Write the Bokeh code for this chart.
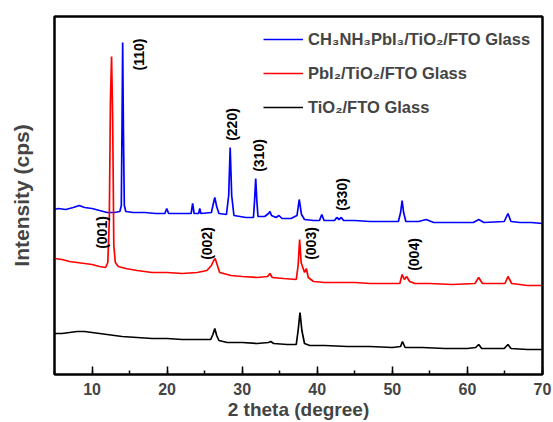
from bokeh.plotting import figure
from bokeh.models import SingleIntervalTicker, FixedTicker, Range1d, ColumnDataSource, LinearAxis
from bokeh.core.properties import value
from bokeh.embed import file_html
from bokeh.resources import INLINE
import math

# ---- data (2theta in degrees, intensity in arbitrary counts, traces offset) ----
blue_x = [5.0, 5.5, 6.5, 7.5, 8.3, 9.0, 10.0, 11.0, 12.0, 13.0, 13.7, 13.9, 14.0, 14.08, 14.18, 14.3, 14.5,
          15.5, 17.0, 18.5, 19.7, 19.95, 20.2, 21.5, 23.2, 23.4, 23.6, 24.2, 24.35, 24.5, 25.9, 26.1, 26.35,
          26.6, 26.9, 27.9, 28.2, 28.4, 28.6, 28.9, 30.5, 31.5, 31.65, 31.8, 31.95, 32.1, 33.0, 33.5, 33.7,
          33.9, 34.5, 34.9, 35.3, 36.5, 37.3, 37.6, 37.9, 38.3, 39.5, 40.3, 40.6, 40.9, 42.3, 42.6, 42.9,
          43.2, 43.5, 45.0, 47.0, 49.0, 50.8, 51.1, 51.3, 51.5, 51.8, 53.5, 54.5, 55.5, 58.0, 60.8, 61.5,
          62.2, 64.9, 65.4, 65.8, 67.0, 68.5, 70.0]
blue_y = [165, 166, 165, 167, 169, 167, 166, 164, 162, 162, 163, 169, 254, 332, 244, 169, 163,
          162, 162, 161, 161, 166, 161, 161, 161, 171, 161, 161, 166, 161, 162, 169, 177,
          168, 161, 160, 179, 227, 179, 159, 157, 157, 174, 196, 174, 158, 158, 161, 163,
          159, 157, 159, 156, 156, 159, 175, 160, 155, 154, 154, 160, 154, 154, 157, 155,
          157, 154, 154, 153, 153, 153, 162, 174, 162, 153, 153, 155, 152, 152, 152, 155,
          152, 153, 161, 153, 152, 152, 151]

red_x = [5.0, 6.0, 7.0, 8.0, 9.0, 10.0, 11.0, 11.8, 12.1, 12.3, 12.45, 12.6, 12.75, 12.9, 13.1, 13.5,
         14.5, 16.0, 18.0, 20.0, 22.0, 24.0, 25.3, 25.9, 26.2, 26.4, 26.7, 27.0, 28.5, 30.0, 32.0, 33.4,
         33.7, 34.0, 35.5, 37.2, 37.45, 37.65, 37.85, 38.3, 38.55, 38.8, 39.5, 41.0, 43.0, 45.0, 47.0,
         49.0, 51.0, 51.3, 51.6, 51.9, 52.3, 53.0, 55.0, 58.0, 61.0, 61.5, 62.0, 65.0, 65.4, 65.9, 68.0, 70.0]
red_y = [116, 115, 113, 112, 111, 110, 108, 107, 112, 154, 274, 318, 254, 129, 112, 108,
         106, 104, 102, 102, 101, 102, 104, 109, 114, 116, 109, 102, 99, 98, 97, 98,
         101, 97, 96, 95, 109, 135, 112, 102, 106, 97, 93, 92, 92, 92, 91,
         91, 91, 100, 95, 98, 93, 91, 91, 90, 91, 97, 91, 91, 98, 91, 89, 89]

black_x = [5.0, 6.0, 7.0, 8.0, 9.0, 10.0, 11.0, 12.0, 14.0, 16.0, 18.0, 20.0, 22.0, 24.0, 25.8, 26.1,
           26.35, 26.6, 26.9, 28.0, 30.0, 32.0, 33.5, 33.8, 34.2, 36.0, 37.2, 37.45, 37.7, 37.95, 38.3,
           39.0, 41.0, 44.0, 47.0, 50.0, 51.1, 51.35, 51.7, 54.0, 57.0, 60.0, 61.1, 61.5, 61.9, 64.9,
           65.4, 65.8, 68.0, 70.0]
black_y = [41, 41, 42, 43, 43, 42, 41, 40, 38, 37, 36, 36, 35, 35, 35, 40,
           46, 39, 34, 32, 32, 31, 32, 33, 31, 30, 30, 44, 62, 44, 31,
           29, 29, 28, 28, 27, 28, 33, 27, 27, 26, 26, 27, 30, 26, 26,
           30, 26, 25, 25]

series_names = ["CH\u2083NH\u2083PbI\u2083/TiO\u2082/FTO Glass",
                "PbI\u2082/TiO\u2082/FTO Glass",
                "TiO\u2082/FTO Glass"]

peak_labels = ["(110)", "(220)", "(310)", "(330)", "(001)", "(002)", "(003)", "(004)"]
peak_x = [16.2, 28.6, 32.25, 43.35, 11.3, 25.3, 39.1, 52.95]
peak_y = [320, 250, 219, 180, 142, 131, 131, 120]

FONT = "Liberation Sans"

p = figure(frame_width=488, frame_height=358, min_border_left=54, min_border_right=11,
           min_border_top=16, min_border_bottom=48,
           x_range=Range1d(5, 70), y_range=Range1d(0, 358),
           output_backend="svg", toolbar_location=None)

p.line(blue_x, blue_y, line_color="#0000FF", line_width=1.7, legend_label=series_names[0])
p.line(red_x, red_y, line_color="#FF0000", line_width=1.7, legend_label=series_names[1])
p.line(black_x, black_y, line_color="#000000", line_width=1.7, legend_label=series_names[2])

src = ColumnDataSource(dict(x=peak_x, y=peak_y, t=peak_labels))
p.text(x="x", y="y", text="t", source=src, angle=math.pi / 2,
       text_align="center", text_baseline="middle",
       text_font=value(FONT), text_font_style="bold", text_font_size="14px",
       text_color="black")

p.xgrid.visible = False
p.ygrid.visible = False
p.outline_line_color = "black"
p.outline_line_width = 2

xa = p.xaxis[0]
xa.ticker = SingleIntervalTicker(interval=10, num_minor_ticks=2)
xa.axis_label = "2 theta (degree)"
xa.axis_label_text_font = FONT
xa.axis_label_text_font_style = "bold"
xa.axis_label_text_font_size = "19px"
xa.axis_label_standoff = 1
xa.major_label_text_font = FONT
xa.major_label_text_font_style = "bold"
xa.major_label_text_font_size = "16px"
xa.major_label_standoff = 8
xa.major_tick_in = 8
xa.major_tick_out = 0
xa.minor_tick_in = 4
xa.minor_tick_out = 0
xa.axis_line_width = 2
xa.major_tick_line_width = 1.5
xa.minor_tick_line_width = 1.5

ya = p.yaxis[0]
ya.ticker = FixedTicker(ticks=[])
ya.axis_label = "Intensity (cps)"
ya.axis_label_text_font = FONT
ya.axis_label_text_font_style = "bold"
ya.axis_label_text_font_size = "21px"
ya.axis_label_standoff = 22
ya.axis_line_width = 2

# plain top and right frame lines
for side in ("above", "right"):
    ax = LinearAxis(ticker=FixedTicker(ticks=[]), axis_line_width=2,
                    major_label_text_font_size="0px")
    p.add_layout(ax, side)

lg = p.legend[0]
lg.location = (209, 257)
lg.label_text_font = FONT
lg.label_text_font_style = "bold"
lg.label_text_font_size = "16.5px"
lg.glyph_width = 40
lg.glyph_height = 20
lg.label_height = 20
lg.spacing = 14
lg.padding = 5
lg.margin = 0
lg.label_standoff = 5
lg.border_line_color = None
lg.background_fill_alpha = 0

open("out.html", "w").write(file_html(p, INLINE))
